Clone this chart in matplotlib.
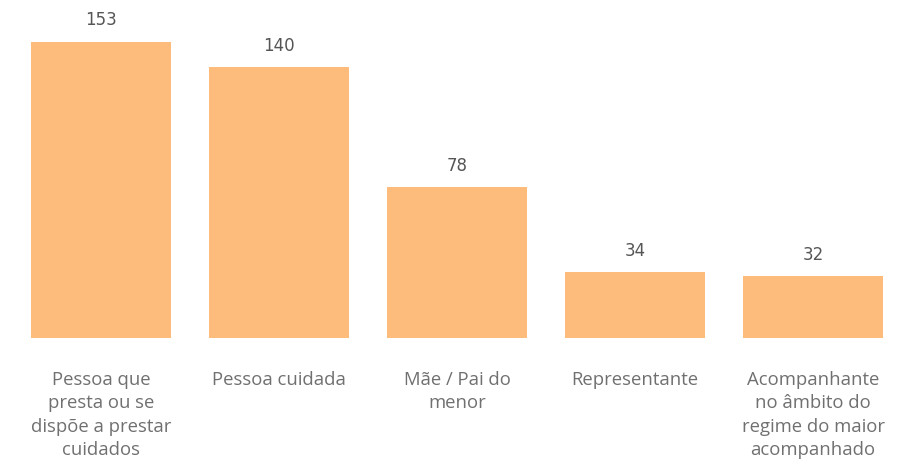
import matplotlib.pyplot as plt

# Number of requests per requester type
categories = ['Pessoa que\npresta ou se\ndispõe a prestar\ncuidados',
              'Pessoa cuidada',
              'Mãe / Pai do\nmenor',
              'Representante',
              'Acompanhante\nno âmbito do\nregime do maior\nacompanhado']
counts = [153, 140, 78, 34, 32]

fig = plt.figure(figsize=(9.01, 4.72), dpi=100)
ax = fig.add_axes([0, 0.2839, 1, 0.7161])

pos = range(len(counts))
bars = ax.bar(pos, counts, width=0.786, color='#FDBB7C')

for b, v in zip(bars, counts):
    ax.annotate(str(v), (b.get_x() + b.get_width()/2, v),
                xytext=(0, 15.5), textcoords='offset points',
                ha='center', va='center', fontsize=12, color='#555555',
                family='DejaVu Sans')

ax.set_xlim(-0.567, 4.494)
ax.set_ylim(0, 174.7)
ax.axis('off')

# category names under each bar
for i, lab in enumerate(categories):
    ax.text(i, -17.0, lab, ha='center', va='top', fontsize=13.3,
            color='#707070', linespacing=1.38, family='Open Sans')

fig.savefig('out.png', dpi=100)
